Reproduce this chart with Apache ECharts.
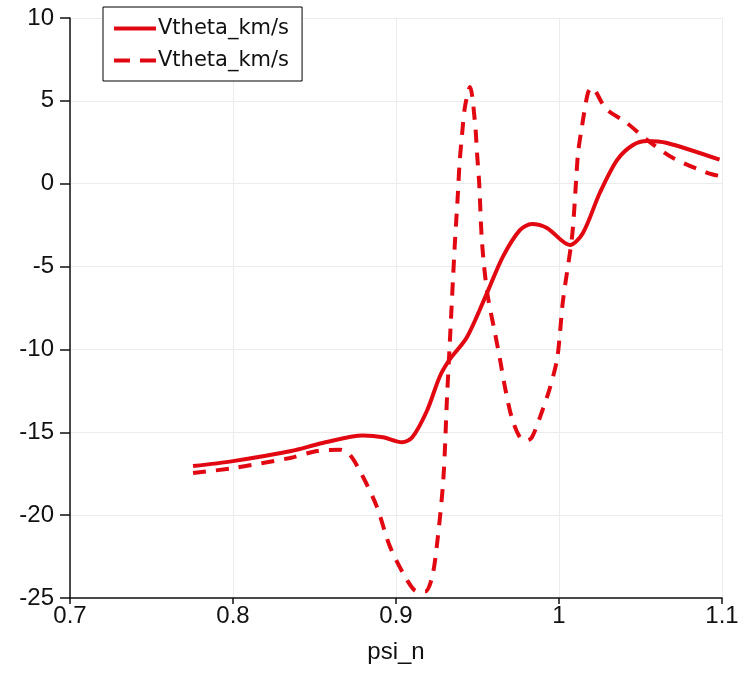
<!DOCTYPE html>
<html>
<head>
<meta charset="utf-8">
<script src="https://cdn.jsdelivr.net/npm/echarts@6/dist/echarts.min.js"></script>
<style>html,body{margin:0;padding:0;background:#fff}#c{width:746px;height:675px}</style>
</head>
<body>
<div id="c"></div>
<script>
const seriesNames = ['Vtheta_km/s', 'Vtheta_km/s\u200b'];
const solidData = [[0.7755,-17.04],[0.8,-16.74],[0.8357,-16.13],[0.855,-15.65],[0.8798,-15.2],[0.892,-15.3],[0.9037,-15.6],[0.910,-15.3],[0.919,-13.7],[0.927,-11.6],[0.933,-10.6],[0.9436,-9.25],[0.9558,-6.6],[0.9656,-4.4],[0.976,-2.8],[0.9834,-2.43],[0.9926,-2.67],[1.0067,-3.7],[1.0147,-2.97],[1.025,-0.56],[1.0356,1.43],[1.0454,2.34],[1.054,2.58],[1.0663,2.46],[1.0985,1.45]];
const dashedData = [[0.7755,-17.46],[0.8,-17.16],[0.835,-16.55],[0.8515,-16.13],[0.8656,-16.05],[0.8718,-16.37],[0.8798,-17.7],[0.8883,-19.5],[0.8963,-21.9],[0.9067,-23.9],[0.913,-24.6],[0.918,-24.6],[0.922,-23.8],[0.925,-21.9],[0.929,-17.9],[0.9313,-12.9],[0.933,-9.6],[0.936,-3.8],[0.938,-0.56],[0.939,1.25],[0.9405,2.94],[0.9423,4.63],[0.9454,5.84],[0.9485,3.66],[0.9497,1.85],[0.951,0.1],[0.9528,-3.58],[0.956,-6.6],[0.9607,-9.0],[0.9638,-10.6],[0.9669,-12.3],[0.971,-14.1],[0.976,-15.3],[0.9804,-15.5],[0.9834,-15.3],[0.9883,-14.1],[0.9945,-12.3],[0.9988,-10.6],[1.0006,-9.0],[1.0025,-7.0],[1.008,-3.2],[1.0104,0.04],[1.0117,1.85],[1.014,3.4],[1.0178,5.5],[1.0202,5.8],[1.0264,4.87],[1.0294,4.45],[1.0417,3.66],[1.054,2.64],[1.07,1.55],[1.0914,0.64],[1.099,0.46]];
const xTicks = ['0.7','0.8','0.9','1','1.1'];
const yTicks = ['-25','-20','-15','-10','-5','0','5','10'];
const xName = 'psi_n';

const red = 'rgb(226,8,18)';
const font = 'Liberation Sans';
const chart = echarts.init(document.getElementById('c'), null, {renderer: 'canvas'});
chart.setOption({
  animation: false,
  backgroundColor: '#fff',
  grid: {left: 70, right: 24, top: 18, bottom: 77, containLabel: false},
  legend: {
    orient: 'vertical', left: 103, top: 7,
    data: [{name: seriesNames[0]}, {name: seriesNames[1], lineStyle: {type: [16, 10]}}],
    backgroundColor: '#fff', borderColor: '#000', borderWidth: 1,
    padding: [11, 13, 10, 9], itemGap: 11, itemWidth: 42, itemHeight: 16,
    itemStyle: {color: 'transparent', borderWidth: 0, opacity: 0},
    lineStyle: {width: 4},
    textStyle: {fontFamily: 'DejaVu Sans', fontSize: 21, color: '#111', padding: [0, 0, 0, -3]}
  },
  xAxis: {
    type: 'value', min: 0.7, max: 1.1, interval: 0.1,
    name: xName, nameLocation: 'middle', nameGap: 42,
    nameTextStyle: {fontFamily: font, fontSize: 24, color: '#111'},
    axisLine: {show: true, onZero: false, lineStyle: {color: '#111', width: 1.5}},
    axisTick: {show: true, length: 6, lineStyle: {color: '#111', width: 1.5}},
    axisLabel: {fontFamily: font, fontSize: 24, color: '#111', margin: 6,
      formatter: v => xTicks[Math.round((v - 0.7) / 0.1)]},
    splitLine: {show: true, lineStyle: {color: '#ececec', width: 1}}
  },
  yAxis: {
    type: 'value', min: -25, max: 10, interval: 5,
    axisLine: {show: true, onZero: false, lineStyle: {color: '#111', width: 1.5}},
    axisTick: {show: true, length: 10, lineStyle: {color: '#111', width: 1.5}},
    axisLabel: {fontFamily: font, fontSize: 24, color: '#111', margin: 16,
      formatter: v => yTicks[Math.round((v + 25) / 5)]},
    splitLine: {show: true, lineStyle: {color: '#ececec', width: 1}}
  },
  series: [
    {name: seriesNames[0], type: 'line', data: solidData, showSymbol: false, symbol: 'none',
     smooth: 0.3, color: red,
     lineStyle: {color: red, width: 4}},
    {name: seriesNames[1], type: 'line', data: dashedData, showSymbol: false, symbol: 'none',
     smooth: 0.3, color: red,
     lineStyle: {color: red, width: 4, type: [13, 10]}}
  ]
});
</script>
</body>
</html>
